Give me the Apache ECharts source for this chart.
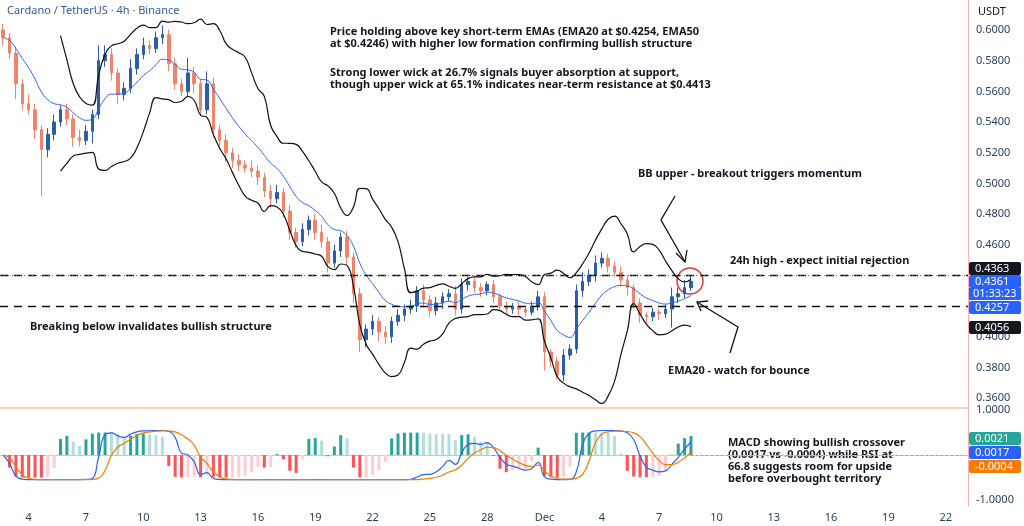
<!DOCTYPE html>
<html><head><meta charset="utf-8">
<script src="https://cdn.jsdelivr.net/npm/echarts@6/dist/echarts.min.js"></script>
<style>html,body{margin:0;padding:0;background:#fff}#c{width:1024px;height:526px}</style>
</head><body><div id="c"></div>
<script>
// 8h candles starting 2 Nov 16:00 UTC
const startTime = Date.UTC(2024,10,2,16);
const stepHours = 8;
const totalSlots = 152;
const firstOpen = 0.600;
const closes = [0.595,0.585,0.565,0.552,0.548,0.535,0.522,0.532,0.540,0.548,
0.542,0.530,0.528,0.534,0.545,0.580,0.584,0.572,0.558,0.562,
0.575,0.584,0.590,0.588,0.595,0.597,0.578,0.565,0.560,0.572,
0.565,0.548,0.565,0.535,0.528,0.520,0.515,0.512,0.510,0.508,
0.504,0.495,0.490,0.494,0.482,0.468,0.462,0.470,0.476,0.468,
0.462,0.448,0.456,0.465,0.452,0.428,0.398,0.405,0.410,0.403,
0.400,0.410,0.414,0.418,0.420,0.430,0.424,0.417,0.422,0.426,
0.428,0.418,0.434,0.436,0.432,0.430,0.434,0.426,0.420,0.418,
0.420,0.418,0.416,0.420,0.426,0.390,0.384,0.375,0.388,0.392,
0.430,0.436,0.440,0.448,0.451,0.446,0.442,0.437,0.432,0.422,
0.414,0.413,0.416,0.415,0.418,0.426,0.428,0.432,0.4361];
const wickUp = [0.004,0.003,0.004,0.003,0.006,0.004,0.003,0.004,0.005,0.003,
0.004,0.003,0.005,0.004,0.003,0.010,0.006,0.004,0.003,0.004,
0.006,0.004,0.005,0.003,0.004,0.006,0.003,0.004,0.003,0.010,
0.004,0.003,0.008,0.004,0.003,0.004,0.003,0.004,0.003,0.005,
0.004,0.003,0.004,0.005,0.003,0.004,0.003,0.004,0.003,0.004,
0.005,0.003,0.004,0.003,0.004,0.003,0.004,0.003,0.004,0.003,
0.004,0.003,0.004,0.003,0.004,0.003,0.004,0.003,0.004,0.003,
0.003,0.005,0.004,0.003,0.004,0.003,0.002,0.003,0.002,0.003,
0.002,0.003,0.002,0.003,0.004,0.003,0.002,0.003,0.004,0.003,
0.004,0.006,0.004,0.005,0.004,0.003,0.003,0.004,0.003,0.002,
0.003,0.002,0.003,0.002,0.003,0.006,0.004,0.005,0.004];
const wickDn = [0.005,0.004,0.010,0.004,0.003,0.006,0.030,0.005,0.004,0.003,
0.004,0.006,0.004,0.003,0.008,0.003,0.004,0.005,0.006,0.004,
0.003,0.004,0.003,0.004,0.003,0.004,0.005,0.004,0.003,0.004,
0.006,0.004,0.003,0.005,0.004,0.006,0.005,0.004,0.003,0.004,
0.005,0.004,0.006,0.003,0.004,0.005,0.004,0.003,0.004,0.005,
0.004,0.006,0.003,0.004,0.005,0.006,0.008,0.005,0.004,0.006,
0.005,0.004,0.003,0.004,0.003,0.004,0.005,0.004,0.003,0.004,
0.003,0.004,0.003,0.004,0.003,0.004,0.003,0.004,0.003,0.004,
0.003,0.004,0.003,0.002,0.003,0.012,0.004,0.003,0.004,0.003,
0.003,0.004,0.003,0.004,0.003,0.004,0.003,0.004,0.005,0.004,
0.005,0.004,0.003,0.004,0.003,0.012,0.004,0.003,0.002];
const priceTicks = [0.36,0.38,0.40,0.42,0.44,0.46,0.48,0.50,0.52,0.54,0.56,0.58,0.60];
const levelHigh = 0.4363, levelLow = 0.4195, lastPrice = 0.4361;

const cats=[];
for(let i=0;i<totalSlots;i++) cats.push(startTime+i*stepHours*3600e3);
const ohlc = closes.map((c,i)=>{const o=i?closes[i-1]:firstOpen;return [o,c,Math.min(o,c)-wickDn[i],Math.max(o,c)+wickUp[i]];});
function ema(arr,n){const k=2/(n+1);const r=[];arr.forEach((v,i)=>r.push(i?r[i-1]+k*(v-r[i-1]):v));return r;}
const ema10=ema(closes,10);
const bbU=[],bbL=[];
closes.forEach((v,i)=>{if(i<9){bbU.push(null);bbL.push(null);return;}const s=closes.slice(i-9,i+1);const m=s.reduce((a,b)=>a+b)/10;const sd=Math.sqrt(s.reduce((a,b)=>a+(b-m)**2,0)/10);bbU.push(m+2*sd);bbL.push(m-2*sd);});
const e6=ema(closes,6), e13=ema(closes,13);
const macd=e6.map((v,i)=>v-e13[i]);
const sig=ema(macd,5);
const macdLine=macd.map(v=>0.55*Math.tanh(v/0.004));
const sigLine=sig.map(v=>0.55*Math.tanh(v/0.004));
const hist=macd.map((v,i)=>v-sig[i]);
const histBars=hist.map((h,i)=>{const prev=i?hist[i-1]:0;let col;if(h>=0)col=h>=prev?'#26a69a':'#b2dfdb';else col=h<prev?'#ff5252':'#ffcdd2';return {value:0.5*Math.tanh(h/0.0015),itemStyle:{color:col}};});

const chart=echarts.init(document.getElementById('c'));
const F='"Noto Sans", Roboto, sans-serif';
function tag(txt,y,bg,fg){return {type:'group',left:969,top:y,z:100,children:[{type:'rect',z:100,shape:{x:0,y:0,width:52,height:13,r:2},style:{fill:bg}},{type:'text',z:101,style:{x:6,y:1.5,text:txt,fill:fg||'#fff',font:'11px '+F}}]};}
function note(x,y,t,size){return {type:'text',left:x,top:y,style:{text:t,fill:'#131722',font:'bold '+(size||11)+'px '+F,lineHeight:12}};}
const dateFmt=v=>{const d=new Date(+v);return d.getUTCDate()===1?'Dec':String(d.getUTCDate());};
const showLbl=(i,v)=>{const d=new Date(+v);return d.getUTCHours()===0&&d.getUTCDate()%3===1;};
chart.setOption({
 animation:false,
 grid:[{left:0,right:56,top:0,height:408},{left:0,right:56,top:408,height:98}],
 xAxis:[{type:'category',data:cats,gridIndex:0,boundaryGap:true,axisLine:{show:false},axisTick:{show:false},axisLabel:{show:false}},
  {type:'category',data:cats,gridIndex:1,boundaryGap:true,axisLine:{lineStyle:{color:'#f7b1b1'}},axisTick:{show:false},
   axisLabel:{interval:showLbl,formatter:dateFmt,color:'#2a3f5f',fontSize:11,fontFamily:F,margin:6}}],
 yAxis:[{type:'value',gridIndex:0,position:'right',min:0.3535,max:0.6196,splitLine:{show:false},axisLine:{show:true,lineStyle:{color:'#f7b1b1'}},axisTick:{show:false},
   axisLabel:{customValues:priceTicks,formatter:v=>v.toFixed(4),color:'#2a3f5f',fontSize:11,fontFamily:F,margin:8}},
  {type:'value',gridIndex:1,position:'right',min:-1.133,max:1.044,splitLine:{show:false},axisLine:{show:true,lineStyle:{color:'#f7b1b1'}},axisTick:{show:false},
   axisLabel:{customValues:[1,-1],formatter:v=>v.toFixed(4),color:'#2a3f5f',fontSize:11,fontFamily:F,margin:8}}],
 series:[
  {type:'candlestick',data:ohlc,xAxisIndex:0,yAxisIndex:0,barWidth:3,
   itemStyle:{color:'#2b5ea7',color0:'#ef8468',borderColor:'#2b5ea7',borderColor0:'#ef8468',borderWidth:1},
   markLine:{symbol:'none',silent:true,label:{show:false},data:[
    {yAxis:levelHigh,lineStyle:{color:'#111',type:[8,6],width:1.3}},
    {yAxis:levelLow,lineStyle:{color:'#111',type:[8,6],width:1.3}},
    {yAxis:lastPrice,lineStyle:{color:'#2962ff',type:[1,3],width:1}}]}},
  {type:'line',data:ema10,symbol:'none',lineStyle:{color:'#2962ff',width:1},smooth:true},
  {type:'line',data:bbU,symbol:'none',lineStyle:{color:'#111',width:1.2},smooth:true},
  {type:'line',data:bbL,symbol:'none',lineStyle:{color:'#111',width:1.2},smooth:true},
  {type:'bar',data:histBars,xAxisIndex:1,yAxisIndex:1,barWidth:3,
   markLine:{symbol:'none',silent:true,label:{show:false},lineStyle:{color:'#9aa0a8',type:[2,3],width:1},
    data:[[{xAxis:closes.length-1,yAxis:0},{xAxis:totalSlots-1,yAxis:0}]]}},
  {type:'line',data:macdLine,xAxisIndex:1,yAxisIndex:1,symbol:'none',smooth:true,lineStyle:{color:'#2962ff',width:1.2}},
  {type:'line',data:sigLine,xAxisIndex:1,yAxisIndex:1,symbol:'none',smooth:true,lineStyle:{color:'#f57c00',width:1.2}}
 ],
 graphic:[
  {type:'line',shape:{x1:0,y1:408,x2:968,y2:408},style:{stroke:'#f7a660',lineWidth:1}},
  {type:'text',left:7,top:5,style:{text:'Cardano / TetherUS · 4h · Binance',fill:'#2e5c9e',font:'11px '+F}},
  {type:'text',left:978,top:6,style:{text:'USDT',fill:'#131722',font:'11px '+F}},
  note(330,26,'Price holding above key short-term EMAs (EMA20 at $0.4254, EMA50\nat $0.4246) with higher low formation confirming bullish structure'),
  note(330,67,'Strong lower wick at 26.7% signals buyer absorption at support,\nthough upper wick at 65.1% indicates near-term resistance at $0.4413'),
  note(638,168,'BB upper - breakout triggers momentum'),
  note(730,255,'24h high - expect initial rejection'),
  note(30,321,'Breaking below invalidates bullish structure'),
  note(668,365,'EMA20 - watch for bounce'),
  {type:'text',left:728,top:437,style:{text:'MACD showing bullish crossover\n(0.0017 vs -0.0004) while RSI at\n66.8 suggests room for upside\nbefore overbought territory',fill:'#131722',font:'bold 11px "Liberation Sans Narrow", '+F,lineHeight:12}},
  {type:'polyline',shape:{points:[[675,196],[661,220],[685,262]]},style:{stroke:'#111',lineWidth:1.3,fill:null}},
  {type:'polyline',shape:{points:[[676,253],[685,262],[687,250]]},style:{stroke:'#111',lineWidth:1.3,fill:null}},
  {type:'polyline',shape:{points:[[730,353],[738,327],[697,302]]},style:{stroke:'#111',lineWidth:1.3,fill:null}},
  {type:'polyline',shape:{points:[[708,301],[697,302],[701,311]]},style:{stroke:'#111',lineWidth:1.3,fill:null}},
  {type:'circle',shape:{cx:690,cy:281,r:13},style:{stroke:'#e53935',lineWidth:1.5,fill:null}},
  tag('0.4363',262,'#131722'),
  tag('0.4361',275,'#2962ff'),
  {type:'group',left:969,top:288,z:100,children:[{type:'rect',z:100,shape:{x:0,y:0,width:52,height:12},style:{fill:'#2962ff'}},{type:'text',z:101,style:{x:4,y:0.5,text:'01:33:23',fill:'#fff',font:'11px '+F}}]},
  tag('0.4257',301,'#2962ff'),
  tag('0.4056',321,'#131722'),
  tag('0.0021',432,'#26a69a'),
  tag('0.0017',446,'#2962ff'),
  tag('-0.0004',460,'#f57c00')
 ]
});
</script></body></html>
